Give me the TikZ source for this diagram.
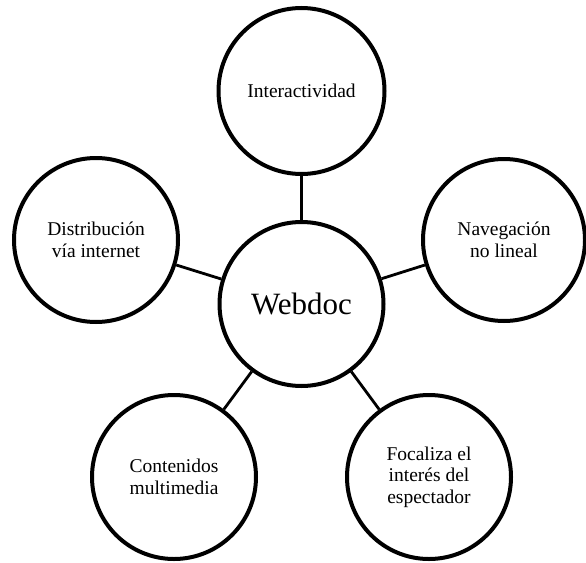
\documentclass[tikz,border=0pt]{standalone}
\usepackage{fontspec}
\setmainfont{Liberation Serif}
\begin{document}
\begin{tikzpicture}[x=1pt,y=-1pt,
  bubble/.style={circle,draw=black,line width=4pt,fill=white,minimum size=164pt,inner sep=0pt,align=center},
  label/.style={align=center,font=\fontsize{19.5}{21.5}\selectfont},
  link/.style={draw=black,line width=2.8pt}]
\useasboundingbox (0,0) rectangle (586,562);
\fill[white] (0,0) rectangle (586,562);
\node[bubble] (c) at (301.5,304) {};
\node[bubble,minimum size=166pt] (top) at (301.5,91) {};
\node[bubble] (left) at (96,240) {};
\node[bubble,minimum size=162pt] (right) at (504,240) {};
\node[bubble] (bl) at (174,477) {};
\node[bubble] (br) at (429,477) {};
\draw[link] (c) -- (top);
\draw[link] (c) -- (left);
\draw[link] (c) -- (right);
\draw[link] (c) -- (bl);
\draw[link] (c) -- (br);
\node[align=center,font=\fontsize{31}{35}\selectfont] (ct) at (c) {Webdoc};
\node[label] (tt) at (top) {Interactividad};
\node[label] (lt) at (left) {Distribución\\vía internet};
\node[label] (rt) at (right) {Navegación\\no lineal};
\node[label] (blt) at (bl) {Contenidos\\multimedia};
\node[label] (brt) at (br) {Focaliza el\\interés del\\espectador};
\end{tikzpicture}
\end{document}
